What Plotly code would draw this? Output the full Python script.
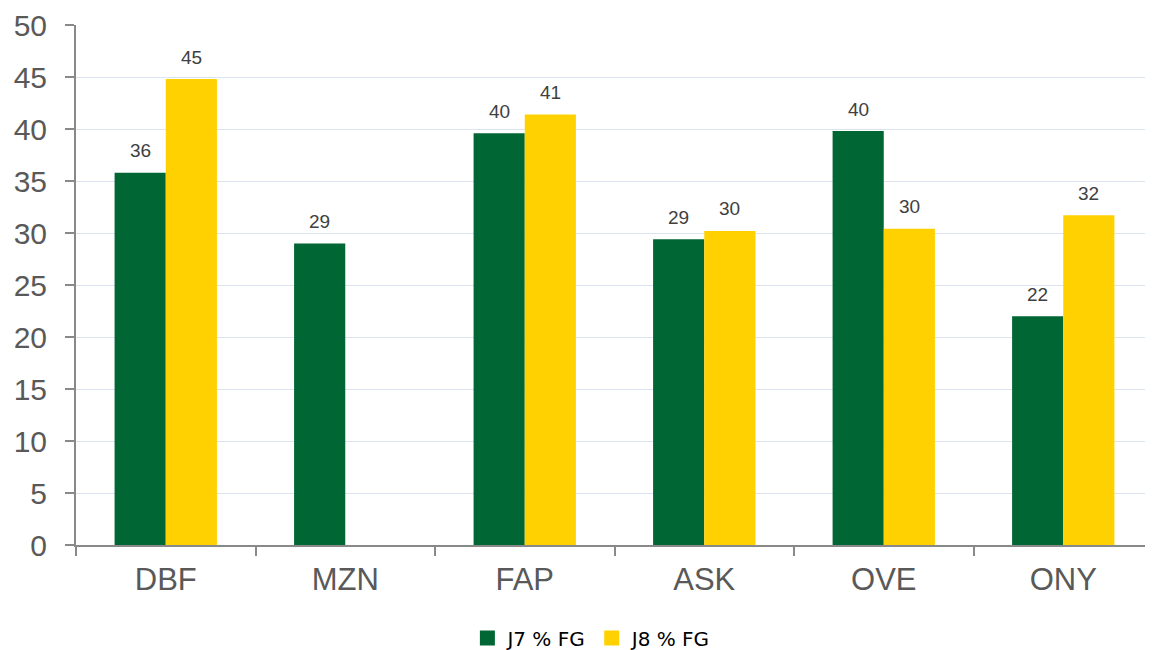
import plotly.graph_objects as go

categories = ["DBF", "MZN", "FAP", "ASK", "OVE", "ONY"]
j7_values  = [35.8, 29.0, 39.6, 29.4, 39.8, 22.0]
j8_values  = [44.8, None, 41.4, 30.2, 30.4, 31.7]
series     = ["J7 % FG", "J8 % FG"]
colors     = ["#006633", "#FFD100"]

AXIS_GREY = "#898989"
TEXT_GREY = "#595959"

fig = go.Figure()

# bars (legend drawn by separate marker traces so the squares are bigger)
for name, vals, color in zip(series, [j7_values, j8_values], colors):
    fig.add_trace(go.Bar(
        x=categories,
        y=vals,
        name=name,
        marker_color=color,
        marker_line_width=0,
        showlegend=False,
    ))

for name, color in zip(series, colors):
    fig.add_trace(go.Scatter(
        x=[None], y=[None],
        mode="markers",
        name=name,
        marker=dict(symbol="square", size=15, color=color),
    ))

# value labels above bars
shift = {0: -25.5, 1: 25.5}
for s, vals in enumerate([j7_values, j8_values]):
    for cat, v in zip(categories, vals):
        if v is None:
            continue
        fig.add_annotation(
            x=cat, y=v, xshift=shift[s], yshift=22,
            text=f"{v:.0f}", showarrow=False,
            font=dict(family="Liberation Sans, Arial", size=19, color="#404040"),
        )

# page body has an 8px margin, so the figure is 8px smaller and shifted
fig.update_layout(
    width=1145, height=642,
    margin=dict(l=68, r=0, t=17, b=105, autoexpand=False),
    paper_bgcolor="white",
    plot_bgcolor="white",
    barmode="group",
    bargap=0.43,
    bargroupgap=0,
    showlegend=True,
    legend=dict(
        orientation="h",
        x=0.479, xanchor="center",
        y=-0.179, yanchor="middle",
        font=dict(family="DejaVu Sans", size=20, color="black"),
        itemwidth=30,
        traceorder="normal",
    ),
)

fig.update_xaxes(
    range=[-0.5, 5.5], automargin=False,
    showline=True, linecolor=AXIS_GREY, linewidth=2,
    ticks="outside", tickson="boundaries", ticklen=9, tickwidth=2, tickcolor=AXIS_GREY,
    tickfont=dict(family="Liberation Sans, Arial", size=31, color=TEXT_GREY),
    ticklabelstandoff=6,
    showgrid=False,
)

fig.update_yaxes(
    range=[0, 50], dtick=5, automargin=False,
    showline=True, linecolor=AXIS_GREY, linewidth=2,
    ticks="outside", ticklen=9, tickwidth=2, tickcolor=AXIS_GREY,
    tickfont=dict(family="Liberation Sans, Arial", size=30, color=TEXT_GREY),
    ticklabelstandoff=12, ticklabeloverflow="allow",
    showgrid=True, gridcolor="#DCE3F0", gridwidth=1,
    zeroline=False,
)

fig.write_html("out.html")
